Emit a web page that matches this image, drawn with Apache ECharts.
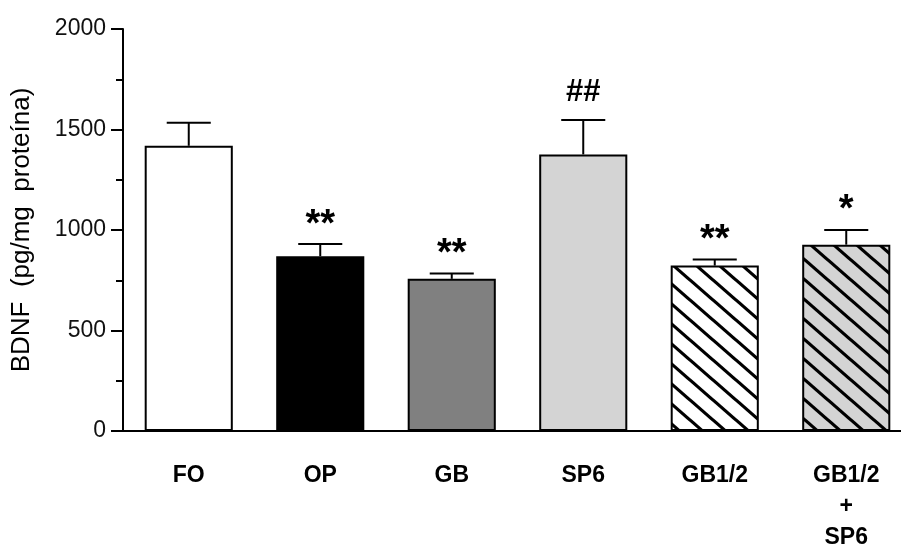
<!DOCTYPE html>
<html>
<head>
<meta charset="utf-8">
<script src="https://cdn.jsdelivr.net/npm/echarts@6/dist/echarts.min.js"></script>
<style>
html,body{margin:0;padding:0;background:#fff;}
#chart{width:901px;height:548px;}
</style>
</head>
<body>
<div id="chart"></div>
<script>
const categories = ['FO', 'OP', 'GB', 'SP6', 'GB1/2', 'GB1/2\n+\nSP6'];
const means = [1419, 870, 757, 1376, 823, 927];
const sems = [115, 60, 26, 171, 30, 73];
const marks = ['', '**', '**', '##', '**', '*'];
const yTicks = [0, 500, 1000, 1500, 2000];

function hatch(bg) {
  const W = 23, H = 20;
  const c = document.createElement('canvas');
  c.width = W; c.height = H;
  const ctx = c.getContext('2d');
  ctx.fillStyle = bg;
  ctx.fillRect(0, 0, W, H);
  ctx.strokeStyle = '#000';
  ctx.lineWidth = 3.2;
  for (const dx of [-W, 0, W]) {
    ctx.beginPath();
    ctx.moveTo(dx - W, -H);
    ctx.lineTo(dx + 2 * W, 2 * H);
    ctx.stroke();
  }
  return { image: c, repeat: 'repeat' };
}

const fills = ['#ffffff', '#000000', '#808080', '#d4d4d4', hatch('#ffffff'), hatch('#d4d4d4')];

const chart = echarts.init(document.getElementById('chart'), null, { renderer: 'canvas' });

const barData = means.map((v, i) => ({
  value: v,
  itemStyle: { color: fills[i], borderColor: '#000', borderWidth: 2 }
}));
const errData = means.map((v, i) => [i, v, sems[i]]);

chart.setOption({
  animation: false,
  backgroundColor: '#ffffff',
  grid: { left: 123, right: -11, top: 29, bottom: 117, containLabel: false, outerBoundsMode: 'none' },
  xAxis: {
    type: 'category',
    data: categories,
    axisLine: { lineStyle: { color: '#000', width: 2 } },
    axisTick: { show: false },
    axisLabel: {
      margin: 29,
      color: '#000',
      fontFamily: "'Liberation Sans Narrow', 'Arial Narrow', 'Liberation Sans', Arial, sans-serif",
      fontWeight: 'bold',
      fontSize: 23,
      lineHeight: 31,
      interval: 0
    }
  },
  yAxis: {
    type: 'value',
    min: yTicks[0],
    max: yTicks[yTicks.length - 1],
    interval: 500,
    name: 'BDNF  (pg/mg  proteína)',
    nameLocation: 'middle',
    nameGap: 88,
    nameTextStyle: {
      color: '#000',
      fontFamily: "'Liberation Sans', Arial, sans-serif",
      fontSize: 26
    },
    axisLine: { show: true, lineStyle: { color: '#000', width: 2 } },
    axisTick: { show: true, length: 12, lineStyle: { color: '#000', width: 2 } },
    minorTick: { show: true, splitNumber: 2, length: 7, lineStyle: { color: '#000', width: 2 } },
    splitLine: { show: false },
    axisLabel: {
      margin: 17,
      color: '#111',
      fontFamily: "'Liberation Sans', Arial, sans-serif",
      fontSize: 23,
      formatter: function (v) { return String(v); }
    }
  },
  series: [
    {
      type: 'bar',
      data: barData,
      barWidth: '67%',
      z: 2
    },
    {
      type: 'custom',
      data: errData,
      encode: { x: 0, y: 1 },
      z: 3,
      renderItem: function (params, api) {
        const i = api.value(0);
        const m = api.value(1);
        const e = api.value(2);
        const base = api.coord([i, m]);
        const top = api.coord([i, m + e]);
        const bw = api.size([1, 0])[0] * 0.67;
        const half = bw / 4;
        const mk = marks[params.dataIndex];
        const isHash = mk.indexOf('#') >= 0;
        const children = [
          { type: 'line', shape: { x1: base[0], y1: base[1], x2: top[0], y2: top[1] }, style: { stroke: '#000', lineWidth: 2 } },
          { type: 'line', shape: { x1: top[0] - half, y1: top[1], x2: top[0] + half, y2: top[1] }, style: { stroke: '#000', lineWidth: 2 } }
        ];
        if (mk) {
          children.push({
            type: 'text',
            x: top[0],
            y: top[1] - (isHash ? 28 : 19),
            style: {
              text: mk,
              fill: '#000',
              font: 'bold ' + (isHash ? 31 : 38) + "px 'Liberation Sans', Arial, sans-serif",
              align: 'center',
              verticalAlign: 'middle'
            }
          });
        }
        return { type: 'group', children: children };
      }
    }
  ]
});
</script>
</body>
</html>
